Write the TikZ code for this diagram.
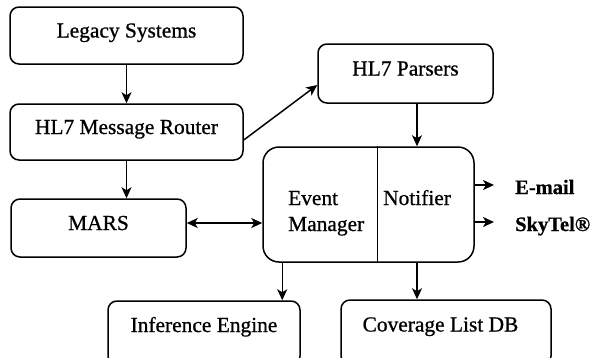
\documentclass[tikz,border=0pt]{standalone}
\usepackage{fontspec}
\setmainfont{Liberation Serif}[FakeBold=0.8]
\usetikzlibrary{arrows.meta,calc}
\begin{document}
\begin{tikzpicture}[x=1pt,y=-1pt,
 box/.style={draw,line width=1.5pt,rounded corners=9pt,inner sep=0pt,text height=14pt,text depth=10pt,font=\fontsize{21.4pt}{26pt}\selectfont},
 conn/.style={line width=1.5pt,-{Stealth[length=11pt,width=10pt,inset=3pt]}},
 both/.style={line width=1.5pt,{Stealth[length=11pt,width=10pt,inset=3pt]}-{Stealth[length=11pt,width=10pt,inset=3pt]}},
 lbl/.style={inner sep=0pt,anchor=base west,font=\fontsize{21.4pt}{26pt}\selectfont},
 blbl/.style={inner sep=0pt,anchor=base west,font=\fontsize{20.5pt}{26pt}\selectfont\bfseries},
]
\useasboundingbox (0,0) rectangle (592,357);
\clip (0,0) rectangle (592,357);

\node[box,minimum width=233pt,minimum height=57pt] (legacy) at (126.5,35.5) {Legacy Systems};
\node[box,minimum width=233pt,minimum height=56pt] (router) at (126.5,132) {HL7 Message Router};
\node[box,minimum width=175pt,minimum height=59pt] (parsers) at (405.5,73.5) {HL7 Parsers};
\node[box,minimum width=175pt,minimum height=58pt] (mars) at (98.5,228) {MARS};
\node[box,minimum width=192pt,minimum height=64pt,text depth=16pt] (inf) at (204,333) {Inference Engine};
\node[box,minimum width=210pt,minimum height=65pt,text depth=16pt] (cov) at (446,332.5) {\hspace*{-11pt}Coverage List DB};

\node[draw,line width=1.5pt,rounded corners=16pt,minimum width=211pt,minimum height=115pt,inner sep=0pt] (ev) at (368.5,204.5) {};
\coordinate (dv) at ($(ev.north west)+(115,0)$);
\draw[line width=1.5pt] (dv) -- (dv |- ev.south);
\node[lbl] (evt1) at (288,205) {Event};
\node[lbl] (evt2) at (288,231) {Manager};
\node[lbl] (notif) at (383,205) {Notifier};

\node[blbl] (email) at (515,194) {E-mail};
\node[blbl] (skytel) at (515,231) {SkyTel®};

\draw[conn] (legacy.south) -- (router.north);
\draw[conn] ($(router.east)+(0,8)$) -- ($(parsers.west)+(0,11.5)$);
\draw[conn] (router.south) -- (router.south |- mars.north);
\draw[both] ($(mars.east)+(0,-5)$) -- ($(ev.west)+(0,18.5)$);
\coordinate (p1) at ($(parsers.south)+(11.5,0)$);
\draw[conn] (p1) -- (p1 |- ev.north);
\coordinate (el) at ($(ev.south west)+(20,0)$);
\draw[conn] (el) -- (el |- inf.north);
\draw[conn] (p1 |- ev.south) -- (p1 |- cov.north);
\coordinate (em) at ($(ev.east)+(0,-19.5)$);
\draw[conn,shorten >=21pt] (em) -- (em -| email.west);
\coordinate (sk) at ($(ev.east)+(0,17.5)$);
\draw[conn,shorten >=21pt] (sk) -- (sk -| skytel.west);
\end{tikzpicture}
\end{document}
